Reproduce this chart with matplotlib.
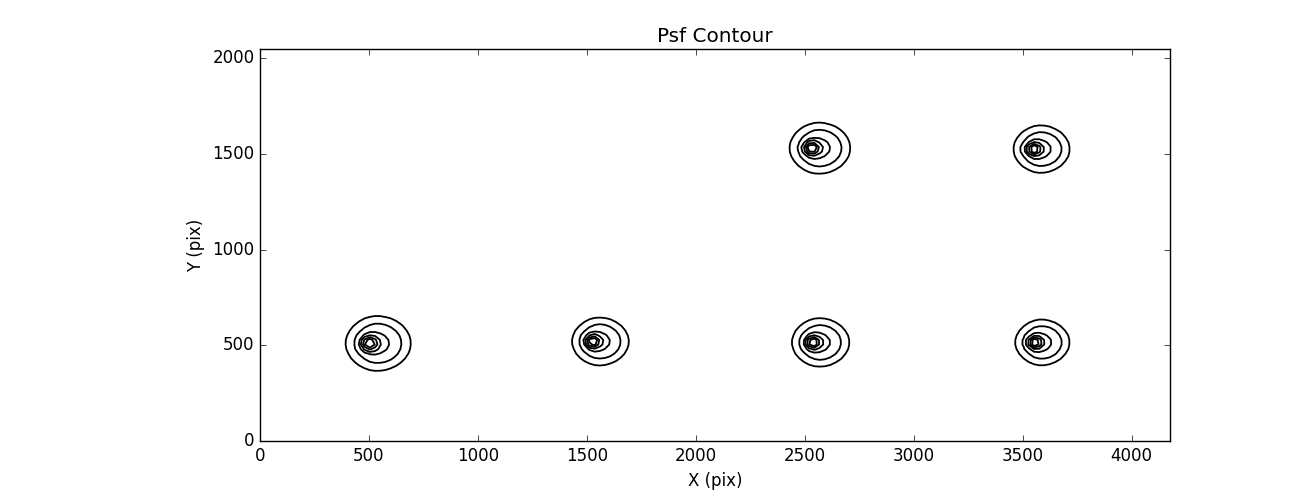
import numpy as np
import matplotlib
matplotlib.use("Agg")
import matplotlib.pyplot as plt

# PSF star positions (pix) and relative sizes
star_x = [500, 1525, 2535, 3555, 2530, 3550]
star_y = [510, 520, 515, 515, 1530, 1525]
star_scale = [1.0, 0.87, 0.88, 0.83, 0.93, 0.86]

# contour levels (relative to core peak)
levels = [0.075, 0.17, 0.38, 0.58, 0.82, 1.03]

nx, ny = 4176, 2048

plt.style.use('classic')
fig = plt.figure(figsize=(13, 4.9), dpi=100, facecolor='white')
fig.subplots_adjust(left=0.2, right=0.9, bottom=0.1, top=0.9)
ax = fig.add_subplot(111)

gx = np.arange(0, nx + 1, 24)
gy = np.arange(0, ny + 1, 24)
X, Y = np.meshgrid(gx, gy)

psf = np.zeros_like(X, dtype=float)
for cx, cy, s in zip(star_x, star_y, star_scale):
    dx = (X - cx) / s
    dy = (Y - cy) / s
    core = np.exp(-(dx**2 + dy**2) / (2 * 25.0**2))
    sx = np.where(dx < 40, 50.0, 65.0)
    mid = 0.35 * np.exp(-(dx - 40)**2 / (2 * sx**2) - dy**2 / (2 * 60.0**2))
    wing = 0.15 * np.exp(-(dx - 30)**2 / (2 * 110.0**2) - dy**2 / (2 * 100.0**2))
    psf += core + mid + wing

ax.contour(X, Y, psf, levels=levels, colors='black', linewidths=1.3)

ax.set_xlim(0, nx)
ax.set_ylim(0, ny)
ax.set_xticks(np.arange(0, 4001, 500))
ax.set_yticks(np.arange(0, 2001, 500))
ax.set_title('Psf Contour')
ax.set_xlabel('X (pix)')
ax.set_ylabel('Y (pix)')

fig.savefig('out.png', dpi=100, facecolor='white')
